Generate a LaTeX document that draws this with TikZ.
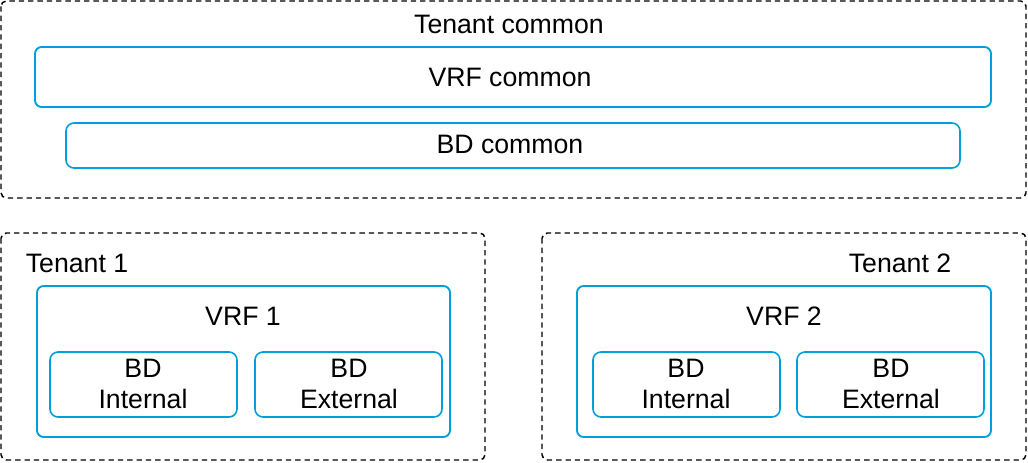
\documentclass[tikz,border=0pt]{standalone}
\usepackage{fontspec}
\setmainfont{Liberation Sans}
\usetikzlibrary{positioning}
\definecolor{bdblue}{RGB}{0,158,219}

\begin{document}
\begin{tikzpicture}[
  x=0.75pt, y=-0.75pt,
  font=\fontsize{20}{23.25}\selectfont,
  tenant/.style={draw=black, line width=1.1pt, dash pattern=on 4pt off 3pt, rounded corners=4pt},
  vrf/.style={draw=bdblue, line width=1.4pt, rounded corners=5pt},
  bd/.style={draw=bdblue, line width=1.2pt, rounded corners=6pt},
  lbl/.style={inner sep=0pt, anchor=base, align=center},
]
\useasboundingbox (0,0) rectangle (1028,462);

% tenant common
\draw[tenant] (1,1) rectangle (1026,198);
\node[lbl] (tc) at (509,33) {Tenant common};
\draw[vrf] (35,47) rectangle (991,107);
\node[lbl] (vrfc) at (510,86) {VRF common};
\draw[bd] (66,123) rectangle (960,168);
\node[lbl] (bdc) at (510,153) {BD common};

% tenant 1
\draw[tenant] (1,233) rectangle (485,460);
\node[lbl] (t1) at (77,272) {Tenant 1};
\draw[vrf] (37,286) rectangle (450,437);
\node[lbl] (vrf1) at (243,325) {VRF 1};
\draw[bd] (50,352) rectangle (237,417);
\node[lbl] (bdi1) at (143,408) {BD\\Internal};
\draw[bd] (255,352) rectangle (442,417);
\node[lbl] (bde1) at (349,408) {BD\\External};

% tenant 2
\draw[tenant] (542,233) rectangle (1026,460);
\node[lbl] (t2) at (900,272) {Tenant 2};
\draw[vrf] (577,286) rectangle (991,437);
\node[lbl] (vrf2) at (784,325) {VRF 2};
\draw[bd] (593,352) rectangle (780,417);
\node[lbl] (bdi2) at (686,408) {BD\\Internal};
\draw[bd] (797,352) rectangle (984,417);
\node[lbl] (bde2) at (891,408) {BD\\External};

\end{tikzpicture}
\end{document}
